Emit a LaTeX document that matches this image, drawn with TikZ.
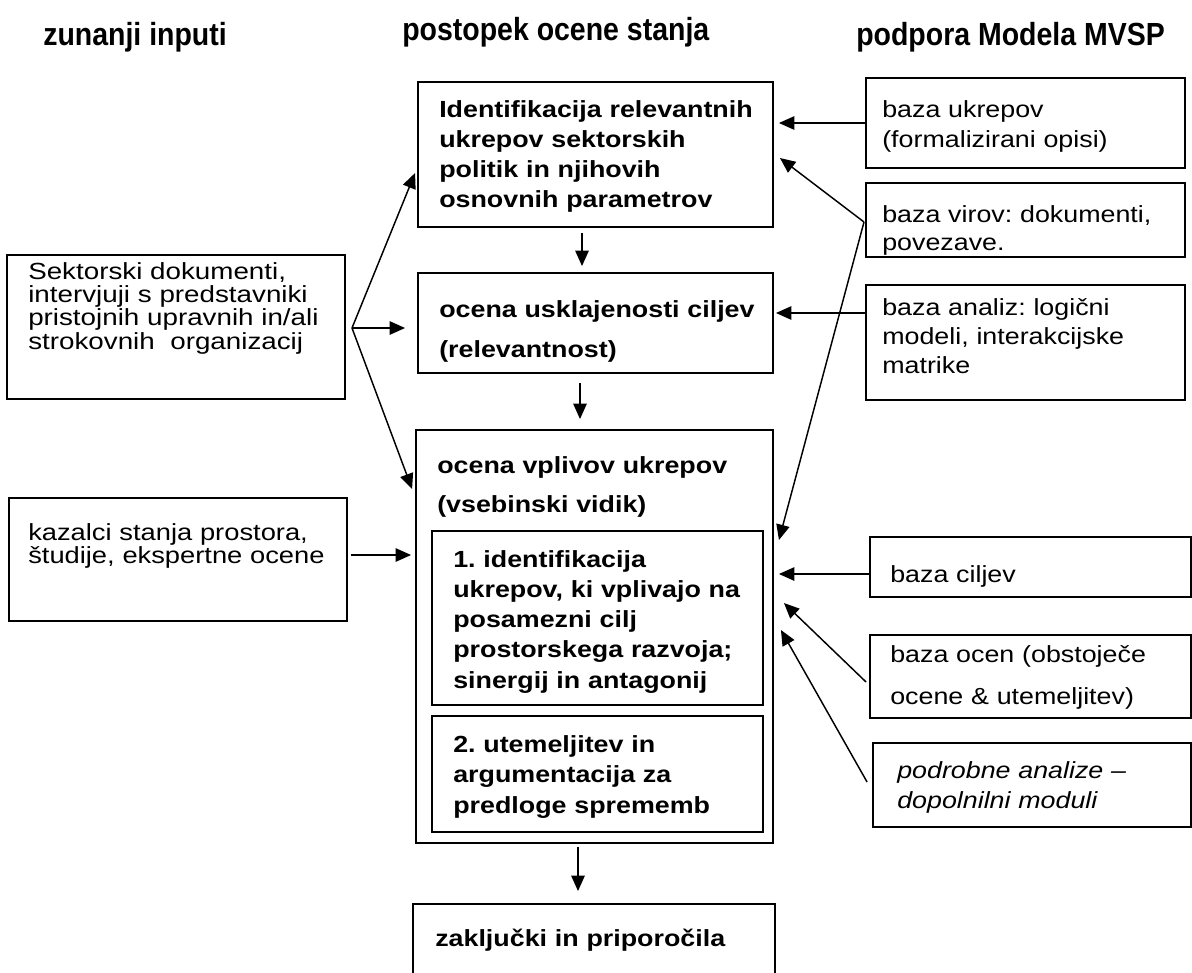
\documentclass[tikz,border=0pt]{standalone}
\usepackage{fontspec}
\setmainfont{Liberation Sans}[FakeStretch=1.15]
\newfontfamily\leftfont{Liberation Sans}[FakeStretch=1.19]
\newfontfamily\lowleftfont{Liberation Sans}[FakeStretch=1.17]
\newfontfamily\headfont{Liberation Sans}[FakeStretch=0.89]
\usetikzlibrary{fit,calc,arrows.meta}
\frenchspacing

\begin{document}
\begin{tikzpicture}[x=0.75pt,y=-0.75pt,
  box/.style={draw,line width=1.4pt,inner sep=0pt},
  txt/.style={anchor=base west,inner sep=0pt,text width=440pt,align=left},
  fa/.style={font=\fontsize{17.5pt}{#1}\selectfont},
  fl/.style={font=\leftfont\fontsize{17.5pt}{#1}\selectfont},
  fll/.style={font=\lowleftfont\fontsize{17.5pt}{#1}\selectfont},
  fb/.style={font=\fontsize{17.5pt}{#1}\selectfont\bfseries},
  fi/.style={font=\fontsize{17.5pt}{#1}\selectfont\itshape},
  head/.style={anchor=base west,inner sep=0pt,font=\headfont\bfseries\fontsize{24pt}{28pt}\selectfont},
  arr/.style={-{Triangle[length=11.5pt,width=10pt]},line width=1.1pt}
]
\useasboundingbox (0,0) rectangle (1192,972);
\clip (0,0) rectangle (1192,972);

% column headings
\node[head] (h1) at (43,45) {zunanji inputi};
\node[head] (h2) at (402,40) {postopek ocene stanja};
\node[head] (h3) at (856,45) {podpora Modela MVSP};

% external inputs
\node[box,fit={(7,255) (345,399)}] (l1) {};
\node[txt,fl=17.6pt] (tl1) at (28,279) {Sektorski dokumenti,\\intervjuji s predstavniki\\pristojnih upravnih in/ali\\strokovnih\ \ organizacij};
\node[box,fit={(9,498) (347,621)}] (l2) {};
\node[txt,fll=17.6pt] (tl2) at (28,540) {kazalci stanja prostora,\\študije, ekspertne ocene};

% assessment procedure
\node[box,fit={(418,82) (773,227)}] (c1) {};
\node[txt,fb=22.5pt] (tc1) at (439,117) {Identifikacija relevantnih\\ukrepov sektorskih\\politik in njihovih\\osnovnih parametrov};
\node[box,fit={(418,273) (773,373)}] (c2) {};
\node[txt,fb=30pt] (tc2) at (439,317) {ocena usklajenosti ciljev\\(relevantnost)};
\node[box,fit={(416,430) (773,843)}] (c3) {};
\node[txt,fb=29.6pt] (tc3) at (437,473) {ocena vplivov ukrepov\\(vsebinski vidik)};
\node[box,fit={(432,531) (763,705)}] (i1) {};
\node[txt,fb=22.7pt] (ti1) at (453,567) {1. identifikacija\\ukrepov, ki vplivajo na\\posamezni cilj\\prostorskega razvoja;\\sinergij in antagonij};
\node[box,fit={(432,716) (763,832)}] (i2) {};
\node[txt,fb=23.2pt] (ti2) at (453,752) {2. utemeljitev in\\argumentacija za\\predloge sprememb};
\node[box,fit={(413,904) (775,990)}] (c4) {};
\node[txt,fb=22.5pt] (tc4) at (435,946) {zaključki in priporočila};

% model support
\node[box,fit={(866,78) (1185,168)}] (r1) {};
\node[txt,fa=22.5pt] (tr1) at (882,117) {baza ukrepov\\(formalizirani opisi)};
\node[box,fit={(866,183) (1185,257)}] (r2) {};
\node[txt,fa=21pt] (tr2) at (882,222) {baza virov: dokumenti,\\povezave.};
\node[box,fit={(866,285) (1185,400)}] (r3) {};
\node[txt,fa=21.75pt] (tr3) at (882,315) {baza analiz: logični\\modeli, interakcijske\\matrike};
\node[box,fit={(870,537) (1191,597)}] (r4) {};
\node[txt,fa=22.5pt] (tr4) at (890,582) {baza ciljev};
\node[box,fit={(870,635) (1191,718)}] (r5) {};
\node[txt,fa=31.5pt] (tr5) at (890,662) {baza ocen (obstoječe\\ocene \& utemeljitev)};
\node[box,fit={(873,743) (1191,827)}] (r6) {};
\node[txt,fi=22.5pt] (tr6) at (897,778) {podrobne analize –\\dopolnilni moduli};

% branching points
\coordinate (l1out) at (352,328);
\coordinate (r2out) at (864,222);

% main flow
\draw[arr] ($(c1.south)+(-13.5,5)$) -- ($(c2.north)+(-13.5,-6)$);
\draw[arr] ($(c2.south)+(-15.5,9)$) -- ($(c3.north)+(-14.5,-10)$);
\draw[arr] ($(c3.south)+(-16.5,3)$) -- ($(c4.north)+(-16,-12)$);

% inputs from the left
\draw[arr] (l1out) -- ($(c1.west)+(-2,18.5)$);
\draw[arr] (l1out) -- ($(c2.west)+(-12,5)$);
\draw[arr] (l1out) -- ($(c3.west)+(-3,-147.5)$);
\draw[arr] ($(l2.east)+(3,-4.5)$) -- ($(c3.west)+(-4,-81.5)$);

% inputs from the right
\draw[arr] (r1.west) -- ($(c1.east)+(5,-31.5)$);
\draw[arr] (r2out) -- ($(c1.east)+(6,3.5)$);
\draw[arr] (r2out) -- ($(c3.east)+(5,-96.5)$);
\draw[arr] ($(r3.west)+(0,-29.5)$) -- ($(c2.east)+(2,-10)$);
\draw[arr] ($(r4.west)+(0,7)$) -- ($(c3.east)+(5,-62.5)$);
\draw[arr] ($(r5.west)+(-3,5.5)$) -- ($(c3.east)+(10,-33.5)$);
\draw[arr] ($(r6.west)+(-5,-3)$) -- ($(c3.east)+(7,-6.5)$);
\end{tikzpicture}
\end{document}
